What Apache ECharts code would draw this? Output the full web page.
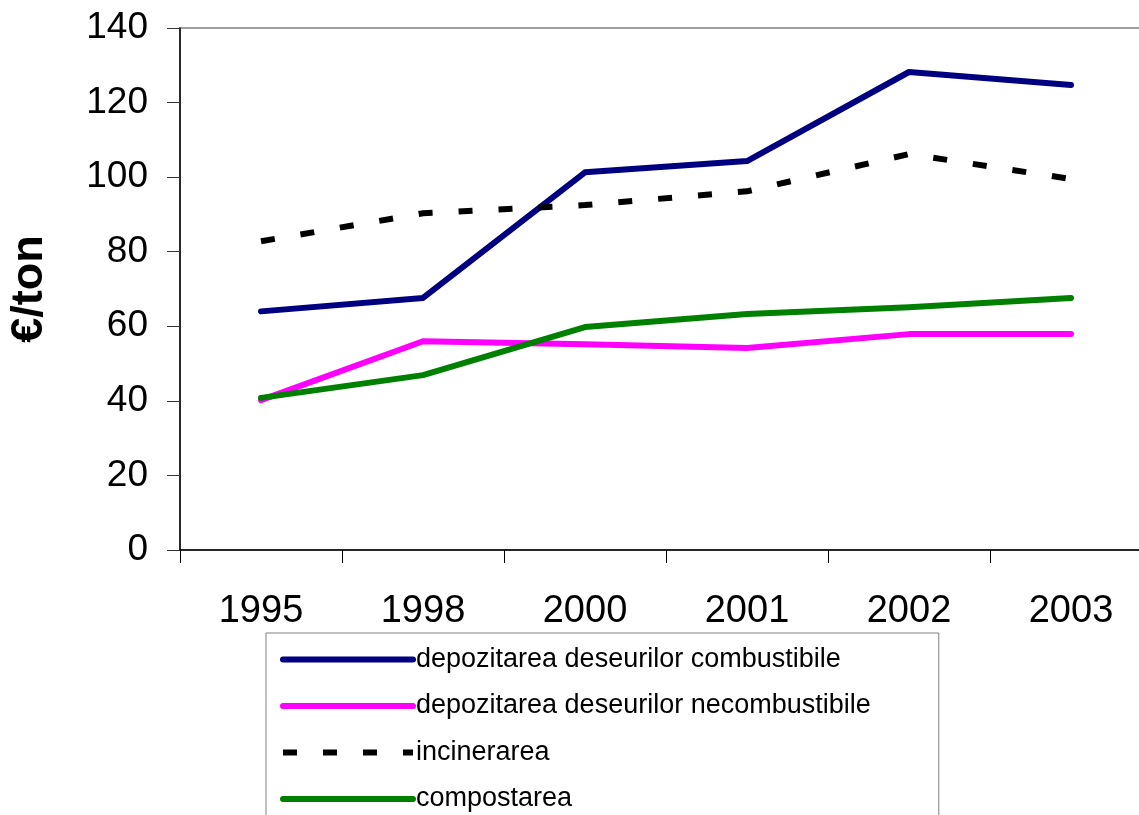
<!DOCTYPE html>
<html>
<head>
<meta charset="utf-8">
<script src="https://cdn.jsdelivr.net/npm/echarts@6/dist/echarts.min.js"></script>
<style>
  html, body { margin: 0; padding: 0; background: #fff; overflow: hidden; width: 1139px; height: 815px; }
  #main { width: 1170px; height: 870px; }
</style>
</head>
<body>
<div id="main"></div>
<script>
// date
const years = ['1995', '1998', '2000', '2001', '2002', '2003'];
const combustibile = [64, 67.6, 101.3, 104.3, 128.2, 124.7];
const necombustibile = [40.2, 56, 55.2, 54.2, 57.9, 57.9];
const incinerare = [82.8, 90.3, 92.5, 96.2, 106.2, 99.5];
const compostare = [40.8, 46.9, 59.8, 63.3, 65.1, 67.6];

const font = '"Liberation Sans", Arial, sans-serif';

const option = {
  animation: false,
  textStyle: { fontFamily: font, color: '#000' },
  grid: {
    left: 180,
    top: 28,
    width: 972,
    height: 522,
    outerBoundsMode: 'none',
    show: true,
    borderColor: '#808080',
    borderWidth: 1.5
  },
  legend: {
    orient: 'vertical',
    left: 266,
    top: 633,
    itemWidth: 130,
    itemHeight: 14,
    itemGap: 19.5,
    padding: [13, 68, 20, 14],
    borderColor: '#808080',
    borderWidth: 1,
    itemStyle: { opacity: 0 },
    lineStyle: { width: 6 },
    textStyle: { fontFamily: font, fontSize: 27, color: '#000', padding: [0, 0, 0, -2] },
    data: [
      'depozitarea deseurilor combustibile',
      'depozitarea deseurilor necombustibile',
      'incinerarea',
      'compostarea'
    ]
  },
  xAxis: {
    type: 'category',
    data: years,
    boundaryGap: true,
    axisLine: { lineStyle: { color: '#000', width: 1.5 } },
    axisTick: { show: true, length: 13, lineStyle: { color: '#000' } },
    axisLabel: { fontSize: 38, margin: 43, color: '#000', fontFamily: font }
  },
  yAxis: {
    type: 'value',
    min: 0,
    max: 140,
    interval: 20,
    name: '€/ton',
    nameLocation: 'middle',
    nameGap: 128,
    nameTextStyle: { fontSize: 45, fontWeight: 'bold', color: '#000', fontFamily: font },
    axisLine: { show: true, lineStyle: { color: '#000', width: 1.5 } },
    axisTick: { show: true, length: 13, lineStyle: { color: '#333' } },
    splitLine: { show: false },
    axisLabel: { fontSize: 37, margin: 32, color: '#000', fontFamily: font }
  },
  series: [
    {
      name: 'depozitarea deseurilor combustibile',
      type: 'line',
      data: combustibile,
      symbol: 'none',
      color: '#000080',
      lineStyle: { width: 6, color: '#000080', cap: 'round', join: 'round' }
    },
    {
      name: 'depozitarea deseurilor necombustibile',
      type: 'line',
      data: necombustibile,
      symbol: 'none',
      color: '#ff00ff',
      lineStyle: { width: 6, color: '#ff00ff', cap: 'round', join: 'round' }
    },
    {
      name: 'incinerarea',
      type: 'line',
      data: incinerare,
      symbol: 'none',
      color: '#000',
      lineStyle: { width: 6, color: '#000', type: [14, 26] }
    },
    {
      name: 'compostarea',
      type: 'line',
      data: compostare,
      symbol: 'none',
      color: '#008000',
      lineStyle: { width: 6, color: '#008000', cap: 'round', join: 'round' }
    }
  ]
};

const myChart = echarts.init(document.getElementById('main'));
myChart.setOption(option);
</script>
</body>
</html>
